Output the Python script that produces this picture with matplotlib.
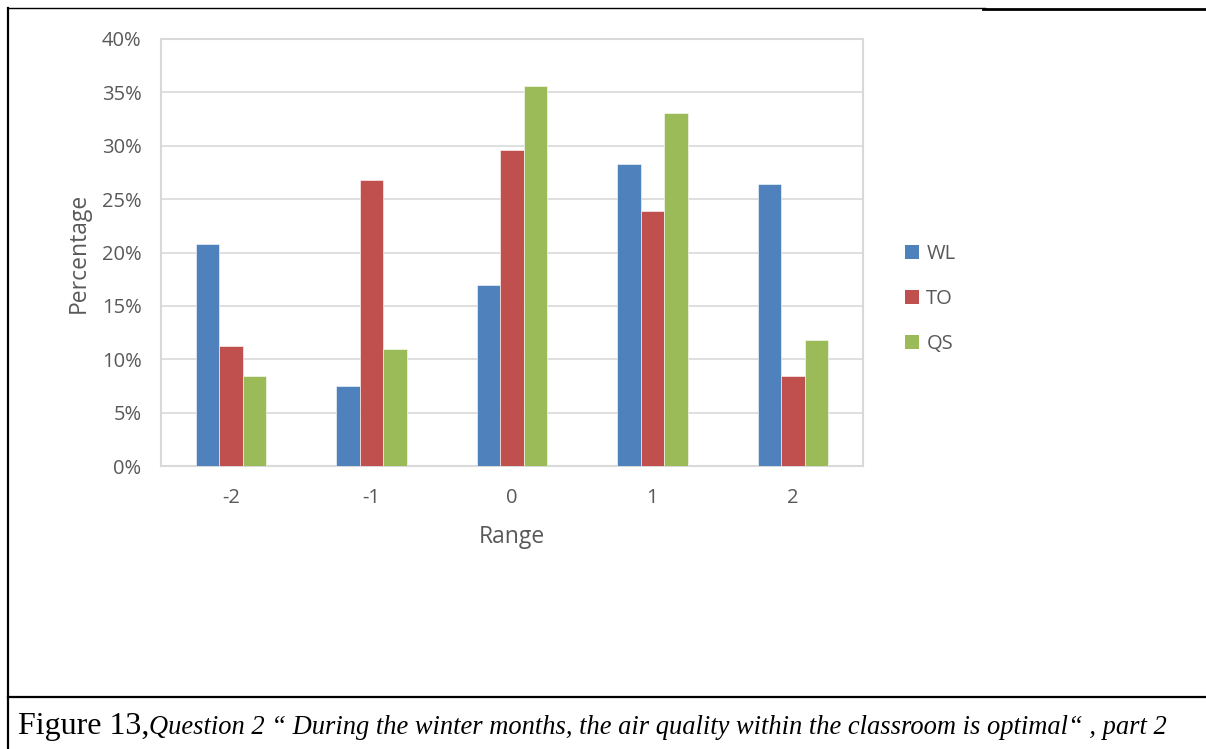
import numpy as np
import matplotlib
matplotlib.use("Agg")
import matplotlib.pyplot as plt
from matplotlib.lines import Line2D
from matplotlib.patches import Patch
from matplotlib.ticker import PercentFormatter

# ====== Survey data (percent of answers per scale point) ======
ranges = ["-2", "-1", "0", "1", "2"]
wl = [20.8, 7.5, 17.0, 28.3, 26.4]
to = [11.2, 26.8, 29.6, 23.9, 8.4]
qs = [8.4, 11.0, 35.6, 33.1, 11.8]
series_names = ["WL", "TO", "QS"]
colors = ["#4F81BD", "#C0504D", "#9BBB59"]

caption_head = "Figure 13,"
caption_body = ("Question 2 \u201c During the winter months, the air quality "
                "within the classroom is optimal\u201c , part 2")

plt.rcParams["font.family"] = ["Open Sans", "DejaVu Sans"]
text_gray = "#595959"
grid_gray = "#D9D9D9"

fig = plt.figure(figsize=(12.06, 7.49), dpi=100)
W, H = 1206, 749
ax = fig.add_axes([161 / W, 1 - 466 / H, (863 - 161) / W, (466 - 39) / H])

x = np.arange(len(ranges))
bw = 0.167
for i, (vals, name, col) in enumerate(zip([wl, to, qs], series_names, colors)):
    ax.bar(x + (i - 1) * bw, vals, width=bw, color=col, label=name,
           edgecolor="white", linewidth=0.4, zorder=3)

ax.set_xlim(-0.5, len(ranges) - 0.5)
ax.set_ylim(0, 40)
ax.set_yticks(np.arange(0, 41, 5))
ax.yaxis.set_major_formatter(PercentFormatter(decimals=0))
ax.set_xticks(x)
ax.set_xticklabels(ranges)
ax.grid(axis="y", color=grid_gray, linewidth=1.2, zorder=0)
for s in ax.spines.values():
    s.set_color(grid_gray)
    s.set_linewidth(1.5)
ax.tick_params(length=0, labelsize=14.5, colors=text_gray)
ax.tick_params(axis="y", pad=14)
ax.tick_params(axis="x", pad=16)
ax.set_xlabel("Range", fontsize=16.5, color=text_gray, labelpad=12)
ax.set_ylabel("Percentage", fontsize=16.5, color=text_gray, labelpad=8)

handles = [Patch(facecolor=c, label=n) for c, n in zip(colors, series_names)]
fig.legend(handles=handles, loc="upper left", bbox_to_anchor=(887 / W, 1 - 226 / H),
           frameon=False, fontsize=14.5, labelcolor=text_gray,
           handlelength=0.7, handleheight=0.7, handletextpad=0.35,
           labelspacing=1.25)

# document table borders around the chart
fig.add_artist(Line2D([8 / W, 985 / W], [1 - 8 / H, 1 - 8 / H], color="black", lw=1.0))
fig.add_artist(Line2D([983 / W, 1.0], [1 - 9 / H, 1 - 9 / H], color="black", lw=2.0))
fig.add_artist(Line2D([8 / W, 8 / W], [0, 1 - 8 / H], color="black", lw=1.6))
fig.add_artist(Line2D([8 / W, 1.0], [1 - 697 / H, 1 - 697 / H], color="black", lw=1.6))

t1 = fig.text(18 / W, 1 - 734 / H, caption_head, family="Liberation Serif",
              fontsize=23, color="black")
fig.canvas.draw()
bb = t1.get_window_extent()
fig.text(bb.x1 / W, 1 - 734 / H, caption_body, family="Liberation Serif",
         style="italic", fontsize=19.1, color="black")

fig.savefig("out.png", dpi=100)
